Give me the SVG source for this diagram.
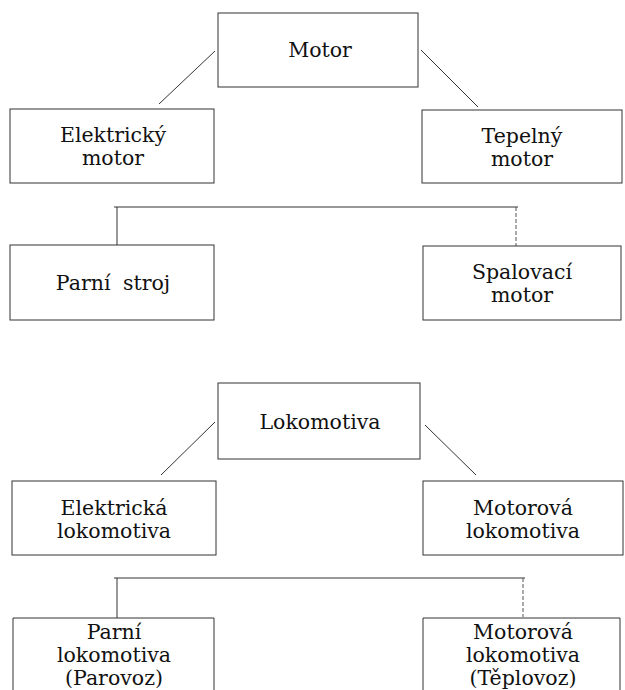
<svg xmlns="http://www.w3.org/2000/svg" width="625" height="690" viewBox="0 0 625 690">
<style>
.box{fill:none;stroke:#333;stroke-width:1}
.ln{fill:none;stroke:#333;stroke-width:1}
.dash{fill:none;stroke:#555;stroke-width:1;stroke-dasharray:4 2}
text{font-family:"DejaVu Serif","Liberation Serif",serif;font-size:20.5px;fill:#111;text-anchor:middle}
</style>
<rect width="625" height="690" fill="#fff"/>
<g id="connectors">
<line class="ln" x1="215" y1="51" x2="159" y2="104"/>
<line class="ln" x1="421" y1="50" x2="478" y2="107"/>
<line class="ln" x1="114" y1="207" x2="518" y2="207"/>
<line class="ln" x1="117" y1="207" x2="117" y2="245"/>
<line class="dash" x1="516" y1="207" x2="516" y2="246"/>
<line class="ln" x1="215" y1="422" x2="161" y2="475"/>
<line class="ln" x1="425" y1="425" x2="476" y2="475"/>
<line class="ln" x1="114" y1="578" x2="525" y2="578"/>
<line class="ln" x1="117" y1="578" x2="117" y2="618"/>
<line class="dash" x1="523" y1="578" x2="523" y2="617"/>
</g>
<g id="motor">
<rect class="box" x="218" y="13" width="200" height="74"/>
<text x="320" y="57">Motor</text>
</g>
<g id="elektricky-motor">
<rect class="box" x="10" y="109" width="204" height="74"/>
<text x="113" y="142">Elektrický</text>
<text x="113" y="165">motor</text>
</g>
<g id="tepelny-motor">
<rect class="box" x="422" y="110" width="200" height="73"/>
<text x="522" y="143">Tepelný</text>
<text x="522" y="166">motor</text>
</g>
<g id="parni-stroj">
<rect class="box" x="10" y="245" width="204" height="75"/>
<text x="113" y="290" word-spacing="6">Parní stroj</text>
</g>
<g id="spalovaci-motor">
<rect class="box" x="423" y="246" width="198" height="74"/>
<text x="522" y="279">Spalovací</text>
<text x="522" y="302">motor</text>
</g>
<g id="lokomotiva">
<rect class="box" x="218" y="383" width="202" height="76"/>
<text x="320" y="429">Lokomotiva</text>
</g>
<g id="elektricka-lokomotiva">
<rect class="box" x="12" y="481" width="204" height="74"/>
<text x="114" y="515">Elektrická</text>
<text x="114" y="538">lokomotiva</text>
</g>
<g id="motorova-lokomotiva">
<rect class="box" x="423" y="481" width="200" height="74"/>
<text x="523" y="515">Motorová</text>
<text x="523" y="538">lokomotiva</text>
</g>
<g id="parni-lokomotiva">
<path class="box" d="M13,690 V618 H214 V690"/>
<text x="114" y="639">Parní</text>
<text x="114" y="662">lokomotiva</text>
<text x="114" y="685">(Parovoz)</text>
</g>
<g id="motorova-lokomotiva-teplovoz">
<path class="box" d="M423,690 V618 H620 V690"/>
<text x="523" y="639">Motorová</text>
<text x="523" y="662">lokomotiva</text>
<text x="523" y="685">(Těplovoz)</text>
</g>
</svg>
